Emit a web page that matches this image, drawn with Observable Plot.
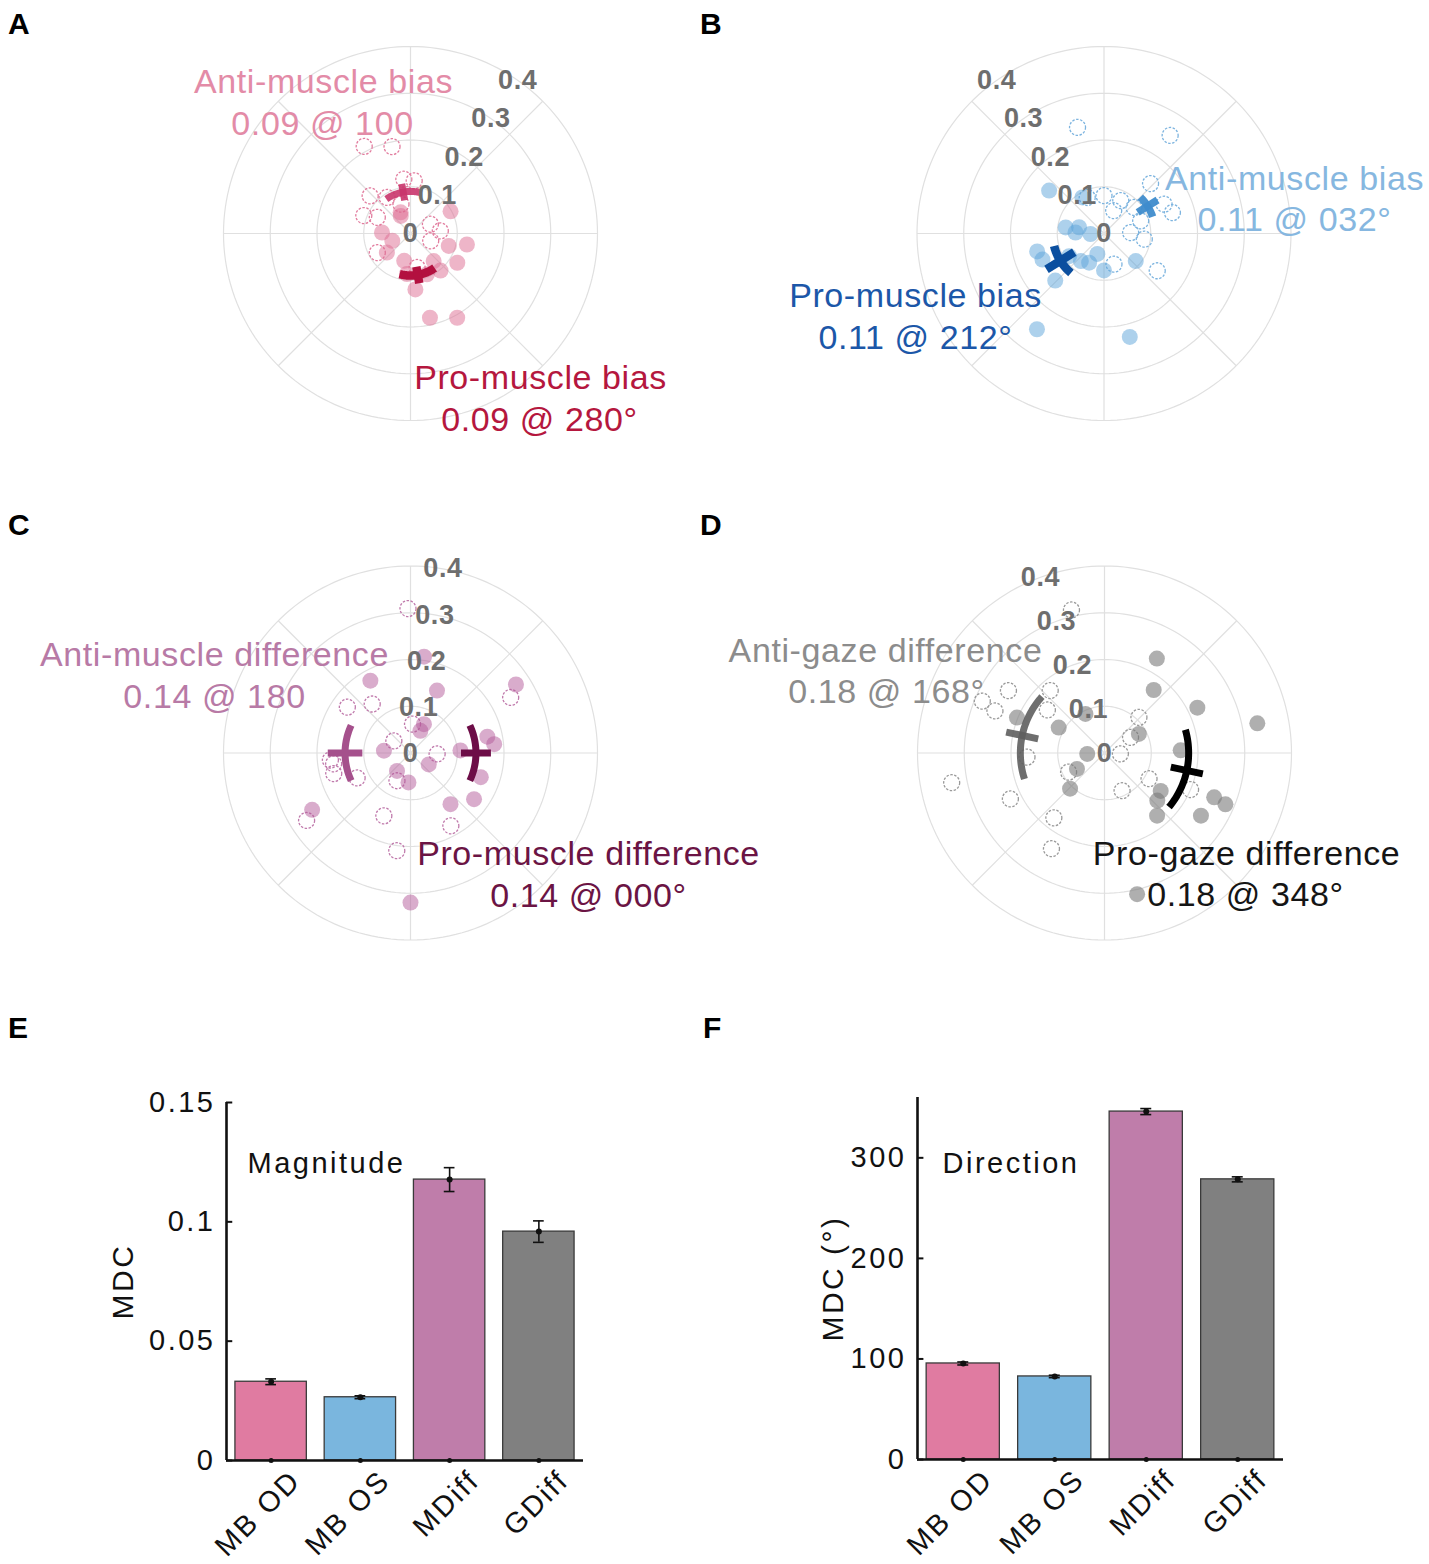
<!DOCTYPE html>
<html><head><meta charset="utf-8">
<script src="https://cdn.jsdelivr.net/npm/d3@7"></script>
<script src="https://cdn.jsdelivr.net/npm/@observablehq/plot@0.6"></script>
<style>
body{margin:0;background:#fff;font-family:"Liberation Sans",Arial,sans-serif;}
#root{position:relative;width:1429px;height:1564px;overflow:hidden;}
.panel{position:absolute;}
.letter{position:absolute;font:bold 30px "Liberation Sans",Arial,sans-serif;color:#000;line-height:1;}
</style></head><body><div id="root"></div>
<script>
// ---------- polar data: [radius, angle in degrees] ----------
const ringTicks = [0, 0.1, 0.2, 0.3, 0.4];
const ringLabels = ["0", "0.1", "0.2", "0.3", "0.4"];
const spokeAngles = [0, 45, 90, 135, 180, 225, 270, 315];

const aPro = [[0.098,29],[0.061,178],[0.042,202],[0.086,342],[0.123,349],[0.118,328],[0.065,219],[0.06,257],[0.077,310],[0.102,309],[0.12,275],[0.185,283],[0.206,299],[0.043,119],[0.087,265],[0.094,292],[0.05,115]];
const aAnti = [[0.211,118],[0.19,102],[0.117,97],[0.113,86],[0.118,137],[0.107,159],[0.079,154],[0.066,108],[0.047,25],[0.064,5],[0.082,210],[0.046,340],[0.092,123],[0.074,281]];
const aMeans = [{r:0.09,theta:280,dr:0.018,dtheta:25},{r:0.09,theta:100,dr:0.018,dtheta:25}];
const aLabels = ["Anti-muscle bias","0.09 @ 100","Pro-muscle bias","0.09 @ 280°"];

const bPro = [[0.149,142],[0.09,121],[0.083,171],[0.055,166],[0.061,178],[0.029,182],[0.148,195],[0.143,203],[0.077,230],[0.07,243],[0.046,252],[0.079,270],[0.09,319],[0.145,224],[0.25,235],[0.228,284],[0.089,213]];
const bAnti = [[0.234,104],[0.253,56],[0.146,47],[0.081,90],[0.079,63],[0.053,67],[0.085,41],[0.143,26],[0.153,17],[0.083,19],[0.057,2],[0.087,352],[0.069,288],[0.139,325],[0.085,115]];
const bMeans = [{r:0.11,theta:212,dr:0.035,dtheta:18},{r:0.11,theta:32,dr:0.025,dtheta:13}];
const bLabels = ["Anti-muscle bias","0.11 @ 032°","Pro-muscle bias","0.11 @ 212°"];

const cPro = [[0.208,82],[0.177,119],[0.145,67],[0.269,33],[0.068,65],[0.052,66],[0.057,175],[0.048,233],[0.063,266],[0.046,328],[0.168,12],[0.18,6],[0.159,341],[0.168,324],[0.139,308],[0.243,210],[0.32,270],[0.107,3]];
const cAnti = [[0.309,91],[0.245,29],[0.133,128],[0.167,144],[0.062,86],[0.044,144],[0.057,358],[0.166,188],[0.17,195],[0.126,205],[0.066,244],[0.146,247],[0.178,299],[0.265,213],[0.211,262],[0.172,185]];
const cMeans = [{r:0.14,theta:0,dr:0.032,dtheta:25},{r:0.14,theta:180,dr:0.037,dtheta:25}];
const cLabels = ["Anti-muscle difference","0.14 @ 180","Pro-muscle difference","0.14 @ 000°"];

const dPro = [[0.231,61],[0.171,52],[0.221,26],[0.333,11],[0.084,29],[0.163,2],[0.037,183],[0.068,210],[0.106,226],[0.112,151],[0.202,158],[0.093,116],[0.145,326],[0.152,318],[0.175,310],[0.253,338],[0.281,337],[0.246,327],[0.31,283]];
const dAnti = [[0.314,103],[0.245,147],[0.177,131],[0.284,157],[0.251,159],[0.153,143],[0.106,46],[0.065,31],[0.034,357],[0.087,208],[0.166,183],[0.333,191],[0.224,206],[0.176,232],[0.234,241],[0.089,295],[0.11,330],[0.2,337]];
const dMeans = [{r:0.18,theta:348,dr:0.035,dtheta:28},{r:0.18,theta:168,dr:0.035,dtheta:30}];
const dLabels = ["Anti-gaze difference","0.18 @ 168°","Pro-gaze difference","0.18 @ 348°"];

// ---------- bar data ----------
const barCats = ["MB OD","MB OS","MDiff","GDiff"];
const magValues = [0.033, 0.0265, 0.1177, 0.0959];
const magErrors = [0.0012, 0.0006, 0.005, 0.0045];
const magTicks = [0, 0.05, 0.1, 0.15];
const magTickLabels = ["0","0.05","0.1","0.15"];
const dirValues = [95.5, 82.6, 346, 278.6];
const dirErrors = [1.5, 1.2, 3, 2.5];
const dirTicks = [0, 100, 200, 300];
const dirTickLabels = ["0","100","200","300"];
const barColors = ["#e07ba1","#7ab6de","#bf7daa","#808080"];

// ---------- helpers ----------
const FONT = '"Liberation Sans", Arial, sans-serif';
const rad = Math.PI / 180;
const px = d => d[0] * Math.cos(d[1] * rad);
const py = d => d[0] * Math.sin(d[1] * rad);
const root = document.getElementById("root");

function place(el, left, top) {
  const div = document.createElement("div");
  div.className = "panel";
  div.style.left = left + "px";
  div.style.top = top + "px";
  div.appendChild(el);
  root.appendChild(div);
}

function polarPanel(cfg) {
  const R = 187, W = 700, H = 500;
  const rings = ringTicks.filter(r => r > 0).flatMap(r => d3.range(0, 361, 2).map(t => ({ring: r, p: [r, t]})));
  const spokes = spokeAngles.map(a => ({a}));
  const meanPaths = cfg.means.flatMap((m, i) => [
    ...d3.range(-m.dtheta, m.dtheta + 0.001, 1).map(o => ({id: "arc" + i, k: i, p: [m.r, m.theta + o]})),
    {id: "rad" + i, k: i, p: [m.r - m.dr, m.theta]},
    {id: "rad" + i, k: i, p: [m.r + m.dr, m.theta]}
  ]);
  const marks = [
    Plot.line(rings, {x: d => px(d.p), y: d => py(d.p), z: "ring", stroke: "#e0e0e0", strokeWidth: 1.2}),
    Plot.link(spokes, {x1: 0, y1: 0, x2: d => px([0.4, d.a]), y2: d => py([0.4, d.a]), stroke: "#e0e0e0", strokeWidth: 1.2}),
    Plot.dot(cfg.anti, {x: px, y: py, r: 8, fill: "none", stroke: cfg.antiStroke, strokeWidth: 1.3, strokeDasharray: "2.5,1.5"}),
    Plot.dot(cfg.pro, {x: px, y: py, r: 8, fill: cfg.proFill, fillOpacity: cfg.proOpacity, stroke: "none"})
  ];
  cfg.means.forEach((m, i) => {
    marks.push(Plot.line(meanPaths.filter(d => d.k === i), {x: d => px(d.p), y: d => py(d.p), z: "id",
      stroke: cfg.meanColors[i], strokeWidth: cfg.meanWidths[i], strokeOpacity: cfg.meanOpacity[i], strokeLinecap: "butt", curve: "linear"}));
  });
  marks.push(Plot.text(ringTicks, {x: r => px([r, cfg.labelAngle]), y: r => py([r, cfg.labelAngle]),
    text: (d, i) => ringLabels[i], fill: "#6e6e6e", fontWeight: "bold", fontSize: 27, lineAnchor: "middle"}));
  cfg.labels.forEach((s, i) => {
    marks.push(Plot.text([s], {frameAnchor: "top-left", dx: cfg.labelPos[i][0], dy: cfg.labelPos[i][1],
      textAnchor: "middle", lineAnchor: "bottom", fontSize: 34, fill: cfg.labelColors[i]}));
  });
  const svg = Plot.plot({
    width: W, height: H, margin: 0,
    x: {domain: [-0.4, 0.4], range: [cfg.cx - R, cfg.cx + R], axis: null},
    y: {domain: [-0.4, 0.4], range: [cfg.cy + R, cfg.cy - R], axis: null},
    style: {fontFamily: FONT, overflow: "visible", background: "transparent", letterSpacing: "0.6px"},
    marks
  });
  place(svg, cfg.left, cfg.top);
}

polarPanel({left: 0, top: 0, cx: 410, cy: 233, pro: aPro, anti: aAnti, means: aMeans, labels: aLabels,
  proFill: "#dd6b92", proOpacity: 0.5, antiStroke: "#e27d9f",
  meanColors: ["#b3103f", "#c9356b"], meanWidths: [8.5, 7], meanOpacity: [1, 0.9],
  labelAngle: 55,
  labelPos: [[323, 92], [322, 134], [540, 388], [539, 430]],
  labelColors: ["#e38ba7", "#e38ba7", "#b5173e", "#b5173e"]});

polarPanel({left: 700, top: 0, cx: 403.5, cy: 233, pro: bPro, anti: bAnti, means: bMeans, labels: bLabels,
  proFill: "#5ba3d9", proOpacity: 0.5, antiStroke: "#7db4df",
  meanColors: ["#0b4f9f", "#3f8ccc"], meanWidths: [8.5, 7.5], meanOpacity: [1, 0.95],
  labelAngle: 125,
  labelPos: [[594, 189], [594, 230], [215, 306], [215, 348]],
  labelColors: ["#86b7e0", "#86b7e0", "#1c57a8", "#1c57a8"]});

polarPanel({left: 0, top: 500, cx: 410, cy: 252.5, pro: cPro, anti: cAnti, means: cMeans, labels: cLabels,
  proFill: "#b45a9a", proOpacity: 0.5, antiStroke: "#c07aac",
  meanColors: ["#6d0d47", "#a5508c"], meanWidths: [7, 7], meanOpacity: [1, 1],
  labelAngle: 80,
  labelPos: [[214, 165], [214, 207], [588, 364], [588, 406]],
  labelColors: ["#b87aa6", "#b87aa6", "#6b1444", "#6b1444"]});

polarPanel({left: 700, top: 500, cx: 404, cy: 252.5, pro: dPro, anti: dAnti, means: dMeans, labels: dLabels,
  proFill: "#7a7a7a", proOpacity: 0.6, antiStroke: "#9a9a9a",
  meanColors: ["#000000", "#5e5e5e"], meanWidths: [7, 7], meanOpacity: [1, 0.9],
  labelAngle: 110,
  labelPos: [[185, 161], [186, 202], [546, 364], [545, 405]],
  labelColors: ["#8c8c8c", "#8c8c8c", "#151515", "#151515"]});

// ---------- bar panels ----------
function barPanel(cfg) {
  const rows = barCats.map((c, i) => ({i, c, v: cfg.values[i], e: cfg.errors[i], color: barColors[i]}));
  const caps = rows.flatMap(d => [{i: d.i, y: d.v - d.e}, {i: d.i, y: d.v + d.e}]);
  const top = cfg.yDomain[1];
  const svg = Plot.plot({
    width: cfg.width, height: cfg.height,
    marginLeft: cfg.ml, marginRight: cfg.mr, marginTop: cfg.mt, marginBottom: cfg.mb,
    x: {domain: [0.5, 4.5], axis: null},
    y: {domain: cfg.yDomain, axis: null},
    color: {type: "identity"},
    style: {fontFamily: FONT, fontSize: "29px", letterSpacing: "2.5px", overflow: "visible", background: "transparent", color: "#111"},
    marks: [
      Plot.rectY(rows, {x1: d => d.i + 0.6, x2: d => d.i + 1.4, y1: 0, y2: "v", fill: "color", stroke: "#3a3a3a", strokeWidth: 1.3}),
      Plot.ruleX(rows, {x: d => d.i + 1, y1: d => d.v - d.e, y2: d => d.v + d.e, stroke: "#111", strokeWidth: 1.6}),
      Plot.ruleY(caps, {y: "y", x1: d => d.i + 0.94, x2: d => d.i + 1.06, stroke: "#111", strokeWidth: 1.6}),
      Plot.dot(rows, {x: d => d.i + 1, y: "v", r: 3, fill: "#111"}),
      Plot.dot(rows, {x: d => d.i + 1, y: 0, r: 2.5, fill: "#111"}),
      Plot.ruleY(cfg.ticks, {y: d => d, x1: 0.5, x2: 0.57, stroke: "#111", strokeWidth: 2}),
      Plot.ruleY([0], {x1: 0.5, x2: 4.5, stroke: "#111", strokeWidth: 2.6}),
      Plot.ruleX([0.5], {y1: 0, y2: top, stroke: "#111", strokeWidth: 2.6}),
      Plot.text(cfg.ticks, {x: 0.5, y: d => d, text: (d, i) => cfg.tickLabels[i], textAnchor: "end", lineAnchor: "middle", dx: -11, fill: "#111"}),
      Plot.text(barCats, {x: (d, i) => i + 1, y: 0, rotate: -45, textAnchor: "end", lineAnchor: "middle", dx: 25, dy: 15, fill: "#111"}),
      Plot.text([cfg.ylabel], {frameAnchor: "left", rotate: -90, dx: cfg.ylabelDx, textAnchor: "middle", lineAnchor: "middle", fontSize: 30, fill: "#111"}),
      Plot.text([cfg.note], {frameAnchor: "top-left", dx: cfg.noteDx, dy: cfg.noteDy, textAnchor: "start", lineAnchor: "bottom", fill: "#111"})
    ]
  });
  place(svg, cfg.left, cfg.top);
}

barPanel({left: 0, top: 1040, width: 700, height: 524, ml: 226, mr: 117, mt: 62, mb: 104,
  values: magValues, errors: magErrors, yDomain: [0, 0.15], ticks: magTicks, tickLabels: magTickLabels,
  ylabel: "MDC", ylabelDx: -103, note: "Magnitude", noteDx: 21, noteDy: 70});

barPanel({left: 700, top: 1040, width: 729, height: 524, ml: 217, mr: 146, mt: 57, mb: 105,
  values: dirValues, errors: dirErrors, yDomain: [0, 360], ticks: dirTicks, tickLabels: dirTickLabels,
  ylabel: "MDC (°)", ylabelDx: -84, note: "Direction", noteDx: 25, noteDy: 75});

// ---------- panel letters ----------
[["A", 8, 9], ["B", 700, 9], ["C", 8, 510], ["D", 700, 510], ["E", 8, 1013], ["F", 703, 1013]].forEach(([t, x, y]) => {
  const d = document.createElement("div");
  d.className = "letter";
  d.textContent = t;
  d.style.left = x + "px";
  d.style.top = y + "px";
  root.appendChild(d);
});
</script></body></html>
